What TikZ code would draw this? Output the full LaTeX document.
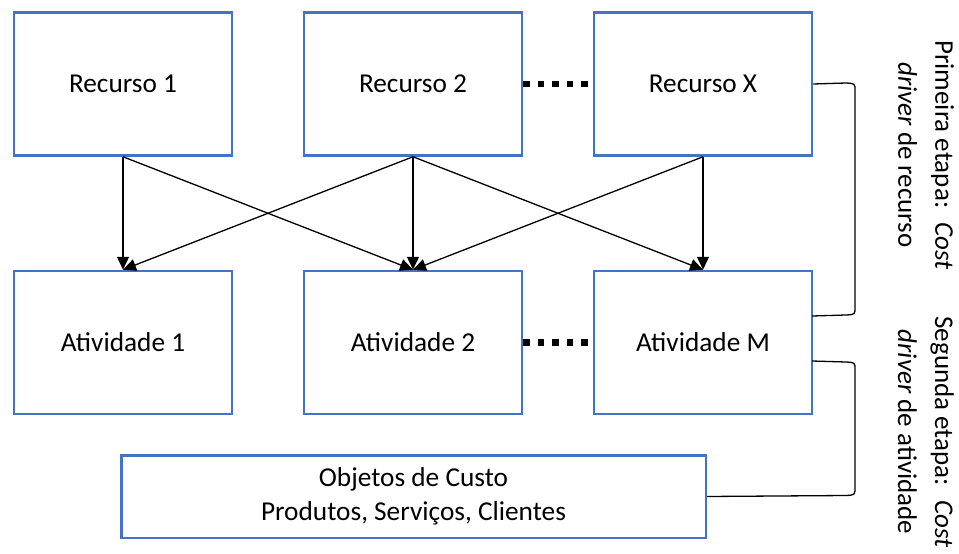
\documentclass[tikz,border=0pt]{standalone}
\usepackage{fontspec}
\setmainfont{Carlito}
\usetikzlibrary{arrows.meta}
\definecolor{boxblue}{HTML}{4472C4}
\begin{document}
\begin{tikzpicture}[x=1pt,y=-1pt,
  box/.style={draw=boxblue, line width=2.5pt, fill=white, inner sep=0pt,
    minimum width=218pt, minimum height=143pt, align=center,
    font=\fontsize{27.3}{34}\selectfont},
  flow/.style={line width=1.3pt, -{Triangle[length=13pt,width=12pt]}},
  ellipsis/.style={line width=6.5pt, dash pattern=on 6.5pt off 8pt},
  bracket/.style={line width=1.3pt},
  stage/.style={rotate=-90, align=center, inner sep=0pt,
    font=\fontsize{27}{37}\selectfont}]
\useasboundingbox (0,0) rectangle (959,554);

% resources
\node[box] (r1) at (123,84)  {Recurso 1};
\node[box] (r2) at (413,84)  {Recurso 2};
\node[box] (rx) at (703,84)  {Recurso X};

% activities
\node[box] (a1) at (123,342.5) {Atividade 1};
\node[box] (a2) at (413,342.5) {Atividade 2};
\node[box] (am) at (703,342.5) {Atividade M};

% cost objects
\node[box, minimum width=584.5pt, minimum height=82.5pt] (obj) at (413.5,496.5)
  {Objetos de Custo\\Produtos, Serviços, Clientes};

% resource drivers
\draw[flow] (r1.south) -- (a1.north);
\draw[flow] (r1.south) -- (a2.north);
\draw[flow] (r2.south) -- (a1.north);
\draw[flow] (r2.south) -- (a2.north);
\draw[flow] (r2.south) -- (am.north);
\draw[flow] (rx.south) -- (a2.north);
\draw[flow] (rx.south) -- (am.north);

% "and so on" dots
\draw[ellipsis] (r2.east) -- (rx.west);
\draw[ellipsis] (a2.east) -- (am.west);

% brackets grouping the two stages
\coordinate (b1bot) at (812,316);
\coordinate (b2top) at (812,361);
\draw[bracket] (rx.east) -- (846,83) .. controls (855,83.5) .. (855,91)
  -- (855,307) .. controls (855,314.5) .. (846,315) -- (b1bot);
\draw[bracket] (b2top) -- (846,362) .. controls (855,362.5) .. (855,370)
  -- (855,487) .. controls (855,495) .. (846,495.5) -- (obj.east);

% stage labels
\node[stage] (s1) at (926,155)
  {Primeira etapa:~ \textit{Cost}\\\textit{driver} de recurso};
\node[stage] (s2) at (926,432)
  {Segunda etapa:~ \textit{Cost}\\\textit{driver} de atividade};
\end{tikzpicture}
\end{document}
